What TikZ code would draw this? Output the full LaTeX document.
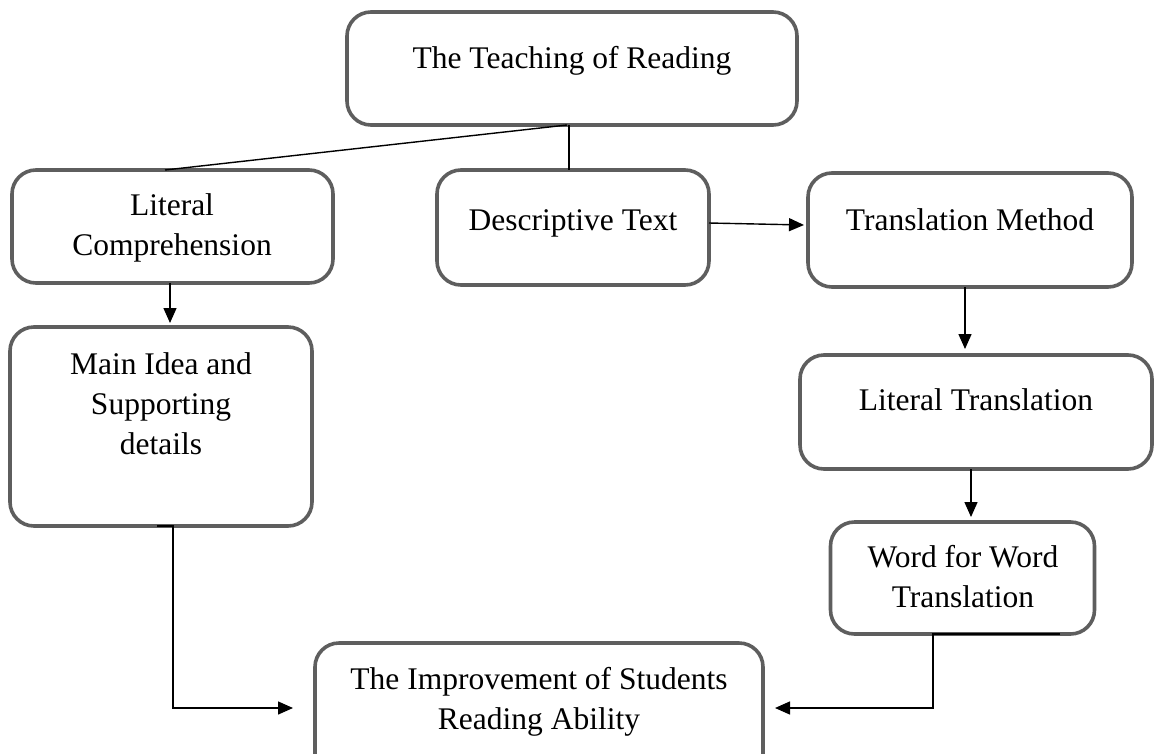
\documentclass[tikz,border=0pt]{standalone}
\usepackage{fontspec}
\setmainfont{Liberation Serif}
\usetikzlibrary{arrows.meta,calc}
\definecolor{boxgray}{HTML}{5E5E5E}
\begin{document}
\begin{tikzpicture}[x=1pt,y=-1pt,
  box/.style={draw=boxgray, line width=3.6pt, rounded corners=24pt, fill=white, inner sep=0pt, outer sep=0pt},
  txt/.style={font=\fontsize{31.5}{40}\selectfont, align=center, inner sep=0pt, anchor=base},
  conn/.style={line width=1.4pt, draw=black},
  arr/.style={conn, -{Triangle[length=15pt,width=13pt]}}]
\useasboundingbox (0,0) rectangle (1159,753);
\clip (0,0) rectangle (1159,753);
% boxes
\node[box, minimum width=450pt, minimum height=113pt] (top) at (572,68.5) {};
\node[box, minimum width=321pt, minimum height=113pt] (lc) at (172.5,226.5) {};
\node[box, minimum width=272pt, minimum height=115pt] (dt) at (573,227.5) {};
\node[box, minimum width=324pt, minimum height=114pt] (tm) at (970,230) {};
\node[box, minimum width=302pt, minimum height=199pt] (mi) at (161,426.5) {};
\node[box, minimum width=352pt, minimum height=114pt] (lt) at (976,412) {};
\node[box, minimum width=264pt, minimum height=112pt] (wfw) at (962.5,578) {};
\node[box, minimum width=448pt, minimum height=150pt] (bot) at (539,718) {};
% texts (anchor base = baseline of the last line)
\node[txt] (toptxt) at (572,68) {The Teaching of Reading};
\node[txt] (lctxt) at (172,255) {Literal\\Comprehension};
\node[txt] (dttxt) at (573,230) {Descriptive Text};
\node[txt] (tmtxt) at (970,230) {Translation Method};
\node[txt] (mitxt) at (161,454) {Main Idea and\\Supporting\\details};
\node[txt] (lttxt) at (976,410) {Literal Translation};
\node[txt] (wfwtxt) at (963,607) {Word for Word\\Translation};
\node[txt] (bottxt) at (539,729) {The Improvement of Students\\Reading Ability};
% connectors
\draw[conn] (top.south -| 567,0) -- (lc.north -| 165,0);
\draw[conn] (top.south -| 569,0) -- (dt.north -| 569,0);
\draw[arr] (dt.east |- 0,223) -- ([xshift=-4pt]tm.west |- 0,225);
\draw[arr] (lc.south -| 170,0) -- ([yshift=4pt]mi.north -| 170,0);
\draw[arr] (tm.south -| 965,0) -- ([yshift=6pt]lt.north -| 965,0);
\draw[arr] (lt.south -| 971,0) -- ([yshift=5pt]wfw.north -| 971,0);
\draw[arr] (mi.south -| 157,0) -- (mi.south -| 173,0) |- ([xshift=-22pt]bot.west |- 0,708);
\draw[arr] (wfw.south -| 1060,0) -- (wfw.south -| 933,0) |- ([xshift=12pt]bot.east |- 0,708);
\end{tikzpicture}
\end{document}
